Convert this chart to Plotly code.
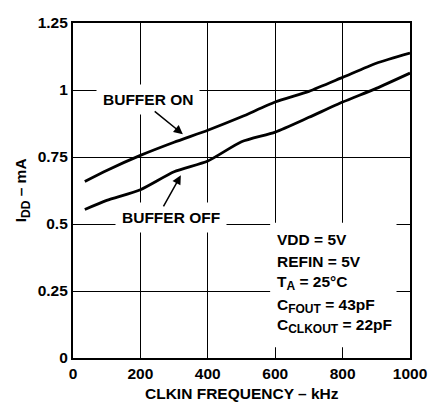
import plotly.graph_objects as go

freq = [35, 100, 200, 300, 400, 500, 600, 700, 800, 900, 1000]
idd_buffer_on = [0.659, 0.700, 0.756, 0.805, 0.850, 0.900, 0.955, 0.995, 1.047, 1.100, 1.138]
idd_buffer_off = [0.554, 0.588, 0.628, 0.695, 0.735, 0.807, 0.843, 0.898, 0.955, 1.006, 1.063]

x_ticks = [0, 200, 400, 600, 800, 1000]
y_ticks = [0, 0.25, 0.5, 0.75, 1, 1.25]
y_tick_text = ["0", "0.25", "0.5", "0.75", "1", "1.25"]

FONT = "Liberation Sans, Arial, Helvetica, sans-serif"
fs = 15.5

def sub(t):
    return "<sub><span style='font-size:12px'>" + t + "</span></sub>"

fig = go.Figure()
for ys in (idd_buffer_on, idd_buffer_off):
    fig.add_trace(go.Scatter(x=freq, y=ys, mode="lines",
                             line=dict(color="black", width=2.8, shape="spline", smoothing=0.6),
                             showlegend=False, hoverinfo="skip"))

# white backing box for the conditions text
fig.add_shape(type="rect", xref="x", yref="y", x0=585, x1=960, y0=0.04, y1=0.505,
              fillcolor="white", line=dict(width=0), layer="between")

def ann(x, y, text, **kw):
    d = dict(x=x, y=y, xref="x", yref="y", text=text, showarrow=False,
             font=dict(family=FONT, size=fs, color="black", weight="bold"))
    d.update(kw)
    fig.add_annotation(**d)

ann(222, 0.965, "BUFFER ON", bgcolor="white", borderpad=6)
ann(290, 0.526, "BUFFER OFF", bgcolor="white", borderpad=6)
# arrows
fig.add_annotation(x=326, y=0.835, ax=238, ay=0.925, xref="x", yref="y", axref="x", ayref="y",
                   text="", showarrow=True, arrowhead=2, arrowsize=1.2, arrowwidth=1.5, arrowcolor="black")
fig.add_annotation(x=320, y=0.682, ax=266, ay=0.56, xref="x", yref="y", axref="x", ayref="y",
                   text="", showarrow=True, arrowhead=2, arrowsize=1.2, arrowwidth=1.5, arrowcolor="black")

cond = ["VDD = 5V", "REFIN = 5V", "T" + sub("A") + " = 25°C",
        "C" + sub("FOUT") + " = 43pF", "C" + sub("CLKOUT") + " = 22pF"]
cond_y = [0.441, 0.360, 0.280, 0.194, 0.119]
for t, yy in zip(cond, cond_y):
    ann(600, yy, t, xanchor="left")

# axis titles
fig.add_annotation(x=-0.152, y=0.5, xref="paper", yref="paper", text="I" + sub("DD") + " – mA",
                   textangle=-90, showarrow=False, xanchor="center", yanchor="middle",
                   font=dict(family=FONT, size=fs, color="black", weight="bold"))
fig.add_annotation(x=0.5, y=-0.105, xref="paper", yref="paper", text="CLKIN FREQUENCY – kHz",
                   showarrow=False, xanchor="center", yanchor="middle",
                   font=dict(family=FONT, size=fs, color="black", weight="bold"))

fig.update_xaxes(range=[0, 1000], tickvals=x_ticks, showgrid=True, gridcolor="black", gridwidth=1.2,
                 showline=True, linecolor="black", linewidth=2.2, mirror=True, zeroline=False,
                 ticks="", automargin=False, ticklabelstandoff=0,
                 tickfont=dict(family=FONT, size=fs, color="black", weight="bold"))
fig.update_yaxes(range=[0, 1.25], tickvals=y_ticks, ticktext=y_tick_text, showgrid=True,
                 gridcolor="black", gridwidth=1.2,
                 showline=True, linecolor="black", linewidth=2.2, mirror=True, zeroline=False,
                 ticks="", automargin=False,
                 tickfont=dict(family=FONT, size=fs, color="black", weight="bold"))

# page body has an 8px margin, so the figure is offset; margins keep the plot area in place
fig.update_layout(width=432, height=395, margin=dict(l=65, r=30, t=15, b=45),
                  paper_bgcolor="white", plot_bgcolor="white")

fig.write_html("out.html")
